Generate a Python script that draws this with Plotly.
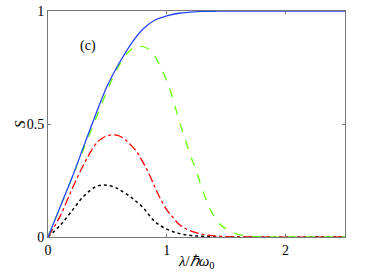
import plotly.graph_objects as go

x_blue = [0, 0.1, 0.2, 0.3, 0.4, 0.5, 0.6, 0.7, 0.8, 0.9, 1.0, 1.1, 1.2, 1.3, 1.4, 1.5, 2.5]
y_blue = [0, 0.13, 0.26, 0.40, 0.54, 0.67, 0.77, 0.855, 0.92, 0.96, 0.978, 0.99, 0.995, 0.998, 0.999, 1.0, 1.0]

x_green = [0, 0.1, 0.2, 0.3, 0.4, 0.5, 0.6, 0.7, 0.78, 0.85, 0.9, 0.95, 1.0, 1.05, 1.1, 1.15, 1.2, 1.25, 1.3, 1.35, 1.4, 1.45, 1.5, 1.6, 1.7, 1.8, 2.5]
y_green = [0, 0.13, 0.26, 0.39, 0.52, 0.65, 0.76, 0.83, 0.845, 0.83, 0.80, 0.75, 0.69, 0.615, 0.52, 0.44, 0.36, 0.29, 0.21, 0.14, 0.09, 0.055, 0.035, 0.012, 0.003, 0.001, 0]

x_red = [0, 0.1, 0.2, 0.3, 0.4, 0.45, 0.5, 0.55, 0.6, 0.65, 0.7, 0.75, 0.8, 0.85, 0.9, 0.95, 1.0, 1.05, 1.1, 1.15, 1.2, 1.3, 1.4, 1.5, 1.7, 2.5]
y_red = [0, 0.09, 0.21, 0.32, 0.41, 0.435, 0.448, 0.452, 0.447, 0.43, 0.405, 0.375, 0.33, 0.28, 0.22, 0.165, 0.12, 0.088, 0.058, 0.04, 0.027, 0.012, 0.005, 0.002, 0, 0]

x_black = [0, 0.1, 0.2, 0.3, 0.4, 0.47, 0.55, 0.6, 0.7, 0.8, 0.9, 1.0, 1.1, 1.2, 1.3, 1.5, 2.5]
y_black = [0, 0.05, 0.115, 0.18, 0.222, 0.23, 0.222, 0.21, 0.175, 0.13, 0.068, 0.035, 0.016, 0.007, 0.003, 0, 0]

x_ticks = [0, 1, 2]
y_ticks = [0, 0.5, 1]
y_tick_text = ["0", "0.5", "1"]

serif = "Liberation Serif"

fig = go.Figure()
fig.add_trace(go.Scatter(x=x_black, y=y_black, mode="lines", line=dict(color="black", width=1.5, dash="dot", shape="spline")))
fig.add_trace(go.Scatter(x=x_red, y=y_red, mode="lines", line=dict(color="#ff0000", width=1.3, dash="dashdot", shape="spline")))
fig.add_trace(go.Scatter(x=x_green, y=y_green, mode="lines", line=dict(color="#66ff00", width=1.3, dash="dash", shape="spline")))
fig.add_trace(go.Scatter(x=x_blue, y=y_blue, mode="lines", line=dict(color="#2244ff", width=1.3, shape="spline")))

fig.add_annotation(x=0.337, y=0.845, xref="x", yref="y", text="(c)", showarrow=False,
                   font=dict(family=serif, size=14, color="black"))
# axis titles
fig.add_annotation(x=0.5, y=-0.11, xref="paper", yref="paper", text="<i>λ</i>/<i>ℏω</i><sub>0</sub>",
                   showarrow=False, xanchor="center", yanchor="middle",
                   font=dict(family=serif, size=15, color="black"))
fig.add_annotation(x=-0.094, y=0.5, xref="paper", yref="paper", text="<i>S</i>", textangle=-90,
                   showarrow=False, xanchor="center", yanchor="middle",
                   font=dict(family=serif, size=15, color="black"))

axis_common = dict(showgrid=False, zeroline=False, showline=True, linecolor="#777777", linewidth=1,
                   mirror="ticks", ticks="inside", ticklen=3, tickcolor="#777777", automargin=False,
                   tickfont=dict(family=serif, size=14, color="black"))

fig.update_xaxes(range=[0, 2.5], tickvals=x_ticks, ticktext=[str(v) for v in x_ticks], **axis_common)
fig.update_yaxes(range=[0, 1], tickvals=y_ticks, ticktext=y_tick_text, **axis_common)

fig.update_layout(width=382, height=277, margin=dict(l=48, r=37, t=11, b=40),
                  font=dict(family=serif),
                  plot_bgcolor="white", paper_bgcolor="white", showlegend=False)

fig.write_html("out.html", config={"displayModeBar": False},
               post_script="document.body.style.margin='0';document.body.style.overflow='hidden';")
